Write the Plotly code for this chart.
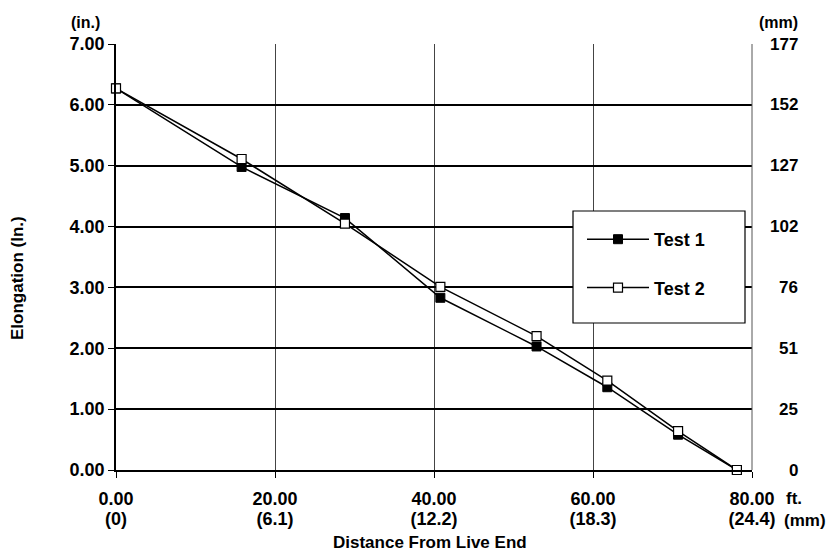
import plotly.graph_objects as go

# Distance from the live end (ft.) and measured elongation (in.)
dist_ft = [0.0, 15.8, 28.8, 40.8, 52.9, 61.8, 70.7, 78.1]
test1_in = [6.27, 4.98, 4.14, 2.83, 2.03, 1.36, 0.58, 0.0]
test2_in = [6.27, 5.11, 4.05, 3.01, 2.20, 1.47, 0.64, 0.0]

# Axis tick labels (imperial with metric equivalents)
x_ticks = [0, 20, 40, 60, 80]
x_labels_ft = ["0.00", "20.00", "40.00", "60.00", "80.00"]
x_labels_m = ["(0)", "(6.1)", "(12.2)", "(18.3)", "(24.4)"]
y_ticks = [0, 1, 2, 3, 4, 5, 6, 7]
y_labels = ["0.00", "1.00", "2.00", "3.00", "4.00", "5.00", "6.00", "7.00"]
mm_labels = ["0", "25", "51", "76", "102", "127", "152", "177"]

FONT = "Liberation Sans, Arial, sans-serif"

fig = go.Figure()
fig.add_trace(go.Scatter(
    x=dist_ft, y=test1_in, name="Test 1", mode="lines+markers",
    line=dict(color="black", width=1.5),
    marker=dict(symbol="square", size=9, color="black", line=dict(color="black", width=1)),
    cliponaxis=False, legendgroup="a",
))
fig.add_trace(go.Scatter(
    x=dist_ft, y=test2_in, name="Test 2", mode="lines+markers",
    line=dict(color="black", width=1.5),
    marker=dict(symbol="square", size=9, color="white", line=dict(color="black", width=1.2)),
    cliponaxis=False, legendgroup="b",
))

L, R, T, B = 116, 87, 44, 88
W, H = 839, 558
pw = W - L - R
ph = H - T - B

fig.update_layout(
    width=W, height=H,
    margin=dict(l=L, r=R, t=T, b=B),
    paper_bgcolor="white", plot_bgcolor="white",
    font=dict(family=FONT, size=18, color="black", weight="bold"),
    showlegend=True,
    legend=dict(
        x=(582 - L) / pw, y=(470 - 221) / ph, xanchor="left", yanchor="top",
        bgcolor="rgba(0,0,0,0)", borderwidth=0,
        font=dict(size=18, family=FONT, weight="bold"),
        itemwidth=62, tracegroupgap=22, traceorder="grouped",
    ),
    xaxis=dict(
        range=[0, 80], tickvals=x_ticks, ticktext=x_labels_ft,
        showgrid=True, gridcolor="#444", gridwidth=1,
        showline=True, linecolor="black", linewidth=2,
        ticks="outside", ticklen=6, tickcolor="black", tickwidth=1,
        ticklabelstandoff=5,
        zeroline=False,
    ),
    # second row of x labels: metric equivalents
    xaxis2=dict(
        range=[0, 80], tickvals=x_ticks, ticktext=x_labels_m,
        overlaying="x", side="bottom", anchor="y",
        showgrid=False, showline=False, zeroline=False, ticks="",
        ticklabelstandoff=36,
    ),
    yaxis=dict(
        range=[0, 7], tickvals=y_ticks, ticktext=y_labels,
        showgrid=True, gridcolor="black", gridwidth=1.6,
        showline=True, linecolor="black", linewidth=1.5,
        ticks="outside", ticklen=6, tickcolor="black", tickwidth=1,
        zeroline=False,
    ),
)

# invisible trace so the metric x axis is drawn
fig.add_trace(go.Scatter(x=[x_ticks[0]], y=[None], xaxis="x2", showlegend=False,
                         hoverinfo="skip", mode="markers"))

# Legend frame
fig.add_shape(type="rect", xref="paper", yref="paper",
              x0=(573 - L) / pw, x1=(745 - L) / pw,
              y0=(470 - 323) / ph, y1=(470 - 211) / ph,
              line=dict(color="black", width=1.2), fillcolor="white", layer="above")

# Right border of the plot area
fig.add_shape(type="line", xref="paper", yref="paper", x0=1, x1=1, y0=0, y1=1,
              line=dict(color="#555", width=1))

# Metric (mm) scale on the right side
for v, lab in zip(y_ticks, mm_labels):
    fig.add_annotation(x=(800 - L) / pw, y=v, xref="paper", yref="y",
                       text=lab, showarrow=False, xanchor="right", yanchor="middle",
                       font=dict(size=17))

fig.add_annotation(x=(85 - L) / pw, y=7, xref="paper", yref="y", yshift=22,
                   text="(in.)", showarrow=False, xanchor="center", yanchor="middle",
                   font=dict(size=16))
fig.add_annotation(x=(800 - L) / pw, y=7, xref="paper", yref="y", yshift=22,
                   text="(mm)", showarrow=False, xanchor="right", yanchor="middle",
                   font=dict(size=16))
fig.add_annotation(x=(784 - L) / pw, y=0, xref="paper", yref="y", yshift=-28,
                   text="ft.", showarrow=False, xanchor="left", yanchor="middle",
                   font=dict(size=17))
fig.add_annotation(x=(782 - L) / pw, y=0, xref="paper", yref="y", yshift=-50,
                   text="(mm)", showarrow=False, xanchor="left", yanchor="middle",
                   font=dict(size=17))

# Axis titles
fig.add_annotation(x=(430 - L) / pw, y=(470 - 542) / ph, xref="paper", yref="paper",
                   text="Distance From Live End", showarrow=False,
                   xanchor="center", yanchor="middle", font=dict(size=17))
fig.add_annotation(x=(17 - L) / pw, y=(470 - 278) / ph, xref="paper", yref="paper",
                   text="Elongation (In.)", showarrow=False, textangle=-90,
                   xanchor="center", yanchor="middle", font=dict(size=17))

fig.write_html("out.html")
